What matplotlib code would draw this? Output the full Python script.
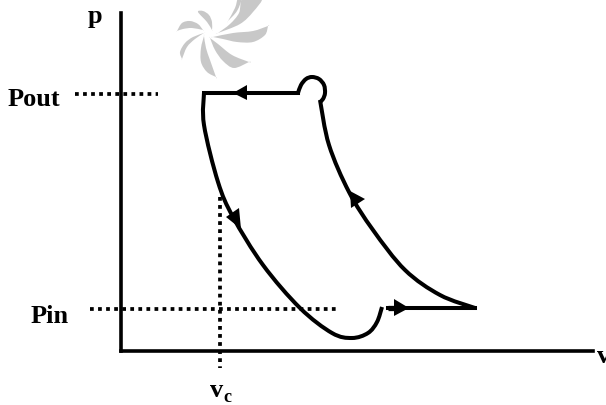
import matplotlib
matplotlib.use("Agg")
import matplotlib.pyplot as plt
from matplotlib.path import Path
from matplotlib.patches import PathPatch, Polygon

INK = "#000000"
GREY = "#c8c8c8"

exhaust_line = [(204, 93), (298, 93)]
overshoot = [(298, 93), (301, 85), (306, 79), (312, 77), (319, 79), (324, 85), (325, 93), (323, 99), (320, 102)]
compression = [(320, 100), (329, 145), (349, 192), (373, 230), (405, 270), (440, 295), (475, 308)]
intake_line = [(475, 308), (388, 308)]
expansion = [(204, 93), (204, 125), (218, 182), (233, 217), (263, 265), (300, 308), (332, 333),
             (352, 338), (368, 333), (377, 322), (382, 307)]
y_axis = [(121, 13), (121, 351)]
x_axis = [(121, 351), (593, 351)]
pout_guide = [(75, 94), (158, 94)]
pin_guide = [(90, 309), (338, 309)]
vc_guide = [(220, 197), (220, 368)]

arrowheads = [
    [(233, 93), (247, 85), (247, 100)],
    [(241, 229), (226, 217), (239, 208)],
    [(409, 308), (394, 299), (394, 316)],
    [(350, 191), (351, 208), (365, 199)],
]
arrow_stub = [(388, 308), (398, 308)]

petals = [
    [(198, 12), (203, 11), (209, 15), (212, 22), (212, 30), (212, 30), (207, 22)],
    [(177, 31), (177, 31), (182, 23), (190, 21), (198, 24), (203, 30), (203, 30), (192, 28), (183, 29)],
    [(204, 33), (204, 33), (193, 37), (185, 43), (180, 52), (182, 59), (182, 59), (187, 47), (195, 39)],
    [(204, 36), (204, 36), (201, 48), (201, 62), (207, 72), (216, 77), (216, 77), (210, 60), (206, 48)],
    [(210, 38), (210, 38), (215, 50), (223, 61), (234, 68), (249, 62), (249, 62), (232, 55), (218, 44)],
    [(213, 37), (213, 37), (223, 39), (237, 42), (253, 42), (265, 35), (268, 26), (268, 26), (253, 31), (233, 33)],
    [(218, 33), (218, 33), (240, 24), (253, 12), (262, -2), (243, -2), (239, 13), (230, 24)],
    [(228, 21), (228, 21), (235, 8), (238, -2), (242, -2), (237, 11)],
]

labels = [("p", 88, 23, 19), ("Pout", 8, 106, 19), ("Pin", 31, 323, 19),
          ("v", 597, 363, 19), ("v", 210, 397, 19), ("c", 223, 402, 13)]


def catmull(pts, closed=False):
    n = len(pts)
    get = (lambda i: pts[i % n]) if closed else (lambda i: pts[max(0, min(n - 1, i))])
    verts = [pts[0]]
    codes = [Path.MOVETO]
    for i in range(n if closed else n - 1):
        p0, p1, p2, p3 = get(i - 1), get(i), get(i + 1), get(i + 2)
        c1 = (p1[0] + (p2[0] - p0[0]) / 6, p1[1] + (p2[1] - p0[1]) / 6)
        c2 = (p2[0] - (p3[0] - p1[0]) / 6, p2[1] - (p3[1] - p1[1]) / 6)
        verts += [c1, c2, p2]
        codes += [Path.CURVE4] * 3
    return Path(verts, codes)


fig = plt.figure(figsize=(6.06, 4.05), dpi=100)
ax = fig.add_axes([0, 0, 1, 1])
ax.set_xlim(0, 606)
ax.set_ylim(405, 0)
ax.axis("off")

for petal in petals:
    ax.add_patch(PathPatch(catmull(petal, closed=True), facecolor=GREY, edgecolor="none"))

for guide in (pout_guide, pin_guide, vc_guide):
    xs, ys = zip(*guide)
    ax.plot(xs, ys, color=INK, lw=2.7, linestyle=(0, (1, 1.15)), dash_capstyle="butt")

for axis_line in (y_axis, x_axis):
    xs, ys = zip(*axis_line)
    ax.plot(xs, ys, color=INK, lw=2.6, solid_capstyle="projecting")

for line in (exhaust_line, intake_line):
    xs, ys = zip(*line)
    ax.plot(xs, ys, color=INK, lw=2.9, solid_capstyle="projecting")

for curve in (overshoot, compression, expansion):
    ax.add_patch(PathPatch(catmull(curve), facecolor="none", edgecolor=INK, lw=2.9, capstyle="butt"))

xs, ys = zip(*arrow_stub)
ax.plot(xs, ys, color=INK, lw=3.8, solid_capstyle="butt")
for head in arrowheads:
    ax.add_patch(Polygon(head, closed=True, facecolor=INK, edgecolor="none"))

for text, x, y, size in labels:
    ax.text(x, y, text, fontsize=size, fontweight="bold", family="Liberation Serif",
            ha="left", va="baseline", color=INK)

fig.savefig("out.png", dpi=100, facecolor="white")
